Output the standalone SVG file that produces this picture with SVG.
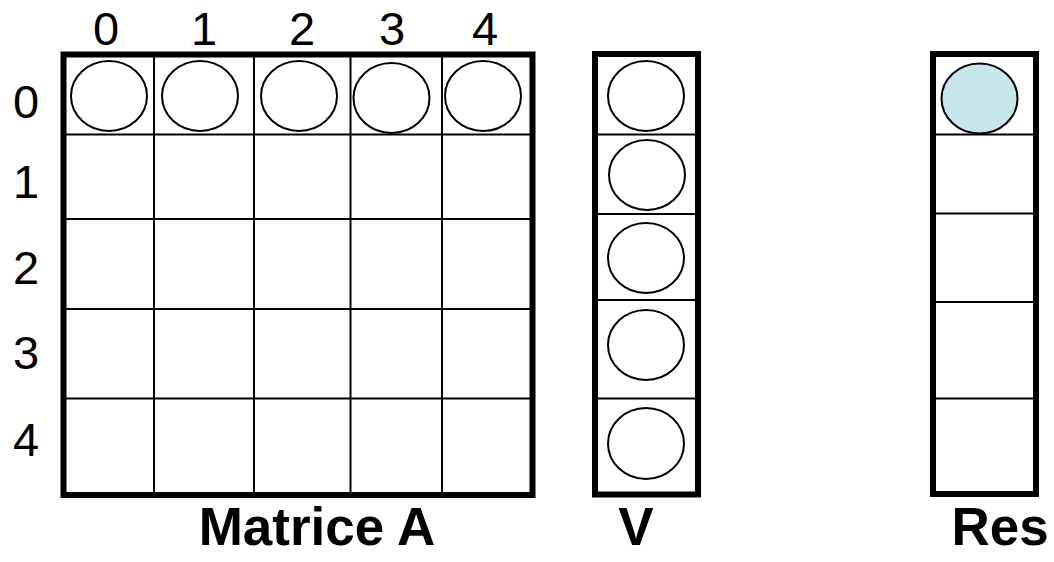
<svg xmlns="http://www.w3.org/2000/svg" width="1054" height="562" viewBox="0 0 1054 562">
<style>
.frame{fill:#fff;stroke:#000;stroke-width:6}
.grid{stroke:#000;stroke-width:2;fill:none}
.cell{fill:#fff;stroke:#000;stroke-width:2}
.hl{fill:#c6e6ea;stroke:#000;stroke-width:2}
.idx{font-family:"Liberation Sans",Arial,sans-serif;font-size:47px;fill:#000;text-anchor:middle}
.title{font-family:"Liberation Sans",Arial,sans-serif;font-size:53px;font-weight:bold;fill:#000;text-anchor:middle}
</style>
<rect width="1054" height="562" fill="#fff"/>
<g id="matrixA">
<rect class="frame" x="63.5" y="54.5" width="469" height="440.5"/>
<path class="grid" d="M154 54.5V495M254 54.5V495M350.5 54.5V495M442 54.5V495M63.5 134.5H532.5M63.5 219H532.5M63.5 309H532.5M63.5 398.5H532.5"/>
<ellipse class="cell" cx="109" cy="96" rx="38" ry="35"/>
<ellipse class="cell" cx="200" cy="96" rx="38" ry="35"/>
<ellipse class="cell" cx="299" cy="96" rx="38" ry="35"/>
<ellipse class="cell" cx="391.5" cy="98" rx="38" ry="35"/>
<ellipse class="cell" cx="483" cy="96" rx="38" ry="35"/>
<text class="idx" x="106" y="45">0</text>
<text class="idx" x="204" y="45">1</text>
<text class="idx" x="302" y="45">2</text>
<text class="idx" x="392" y="45">3</text>
<text class="idx" x="485" y="45">4</text>
<text class="idx" x="26" y="118">0</text>
<text class="idx" x="26" y="198">1</text>
<text class="idx" x="26" y="284">2</text>
<text class="idx" x="26" y="369">3</text>
<text class="idx" x="26" y="456">4</text>
<text class="title" x="317" y="545">Matrice A</text>
</g>
<g id="vectorV">
<rect class="frame" x="595" y="54" width="103" height="440.5"/>
<path class="grid" d="M595 134.5H698M595 214H698M595 300H698M595 398.5H698"/>
<ellipse class="cell" cx="646" cy="96" rx="38" ry="35"/>
<ellipse class="cell" cx="647" cy="175" rx="38" ry="35"/>
<ellipse class="cell" cx="646" cy="258" rx="38" ry="35"/>
<ellipse class="cell" cx="646" cy="345" rx="38" ry="35"/>
<ellipse class="cell" cx="646" cy="443.5" rx="38" ry="35.5"/>
<text class="title" x="636" y="545">V</text>
</g>
<g id="resultRes">
<rect class="frame" x="933" y="54" width="103" height="440"/>
<path class="grid" d="M933 134.5H1036M933 213.5H1036M933 302H1036M933 398.5H1036"/>
<ellipse class="hl" cx="979.5" cy="98.5" rx="38" ry="35"/>
<text class="title" x="1000" y="545">Res</text>
</g>
<g id="connectors"/>
</svg>
